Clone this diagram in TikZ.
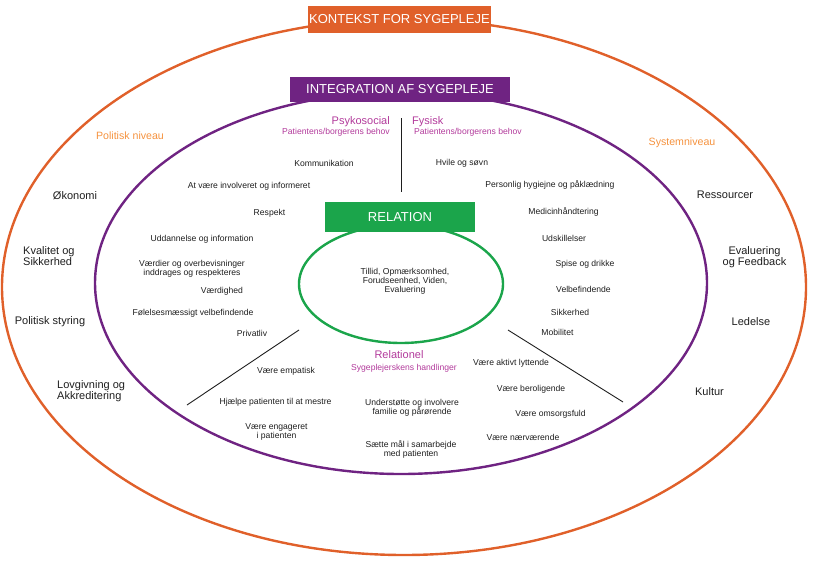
\documentclass[tikz,border=0pt]{standalone}
\usepackage{fontspec}
\setmainfont{Liberation Sans}
\definecolor{kontekst}{HTML}{E0602A}
\definecolor{niveau}{HTML}{F5923E}
\definecolor{integration}{HTML}{6F2382}
\definecolor{relation}{HTML}{1BA54B}
\definecolor{behov}{HTML}{B23A9B}
\definecolor{ink}{HTML}{1E1E1E}

\begin{document}
\begin{tikzpicture}[x=1pt,y=-1pt]
\tikzset{item/.style = {font=\fontsize{8.6}{9}\selectfont, text=ink, inner sep=0pt, align=center}}
\tikzset{outer/.style = {font=\fontsize{11}{11}\selectfont, text=ink, inner sep=0pt, align=center}}
\tikzset{level/.style = {font=\fontsize{10.6}{12}\selectfont, text=niveau, inner sep=0pt}}
\tikzset{head/.style = {font=\fontsize{11}{12}\selectfont, text=behov, inner sep=0pt}}
\tikzset{sub/.style = {font=\fontsize{8.6}{10}\selectfont, text=behov, inner sep=0pt}}
\tikzset{titlebox/.style = {shape=rectangle, text=white, inner sep=0pt, font=\fontsize{13}{13}\selectfont}}
\tikzset{ring/.style = {line width=2.4pt}}
\tikzset{divider/.style = {draw=ink, line width=0.9pt}}

\useasboundingbox (0,0) rectangle (813,562);

%rings
\draw[ring, kontekst] (404,287) ellipse [x radius=402pt, y radius=268pt];
\draw[ring, integration] (401,283) ellipse [x radius=306pt, y radius=191pt];
\draw[ring, relation] (401,284) ellipse [x radius=102pt, y radius=59pt];

%boxes
\node[titlebox, fill=kontekst, minimum width=183pt, minimum height=27pt] (kontekst) at (399.5,19.5) {KONTEKST FOR SYGEPLEJE};
\node[titlebox, fill=integration, minimum width=220pt, minimum height=25pt] (integration) at (400,89.5) {INTEGRATION AF SYGEPLEJE};
\node[titlebox, fill=relation, minimum width=150pt, minimum height=30pt] (relation) at (400,217) {RELATION};

\node[item] (kerne) at (405,281) {Tillid, Opmærksomhed,\\Forudseenhed, Viden,\\Evaluering};

%dividers
\coordinate (top1) at (401,118);
\coordinate (top2) at (401,192);
\coordinate (left1) at (299,330);
\coordinate (left2) at (187,405);
\coordinate (right1) at (508,330);
\coordinate (right2) at (623,402);
\draw[divider] (top1) -- (top2);
\draw[divider] (left1) -- (left2);
\draw[divider] (right1) -- (right2);

% ----- psykosocial
\node[head, anchor=east] (psyk) at (390,122) {Psykosocial};
\node[sub, anchor=east] (psyksub) at (390,132) {Patientens/borgerens behov};
\node[item] (komm) at (324,163) {Kommunikation};
\node[item] (invol) at (249,186) {At være involveret og informeret};
\node[item] (resp) at (269.5,213) {Respekt};
\node[item] (udd) at (202,239) {Uddannelse og information};
\node[item] (vaerd) at (192,269) {Værdier og overbevisninger\\inddrages og respekteres};
\node[item] (digh) at (222,291) {Værdighed};
\node[item] (folel) at (193,313) {Følelsesmæssigt velbefindende};
\node[item] (priv) at (252,333) {Privatliv};

% ----- fysisk
\node[head, anchor=west] (fys) at (412,122) {Fysisk};
\node[sub, anchor=west] (fyssub) at (414,132) {Patientens/borgerens behov};
\node[item] (hvile) at (462,163) {Hvile og søvn};
\node[item] (hyg) at (550,185) {Personlig hygiejne og påklædning};
\node[item] (med) at (563.5,212) {Medicinhåndtering};
\node[item] (udsk) at (564,238) {Udskillelser};
\node[item] (spise) at (585,264) {Spise og drikke};
\node[item] (velb) at (583.5,289) {Velbefindende};
\node[item] (sikk) at (570,312) {Sikkerhed};
\node[item] (mob) at (557.5,332) {Mobilitet};

% ----- relationel
\node[head] (rel) at (399,355) {Relationel};
\node[sub] (relsub) at (404,368) {Sygeplejerskens handlinger};
\node[item] (emp) at (286,371) {Være empatisk};
\node[item] (mestre) at (275.5,402) {Hjælpe patienten til at mestre};
\node[item] (eng) at (276.5,432) {Være engageret\\i patienten};
\node[item] (fam) at (412,408) {Understøtte og involvere\\familie og pårørende};
\node[item] (maal) at (411,449.5) {Sætte mål i samarbejde\\med patienten};
\node[item] (lyt) at (511,363) {Være aktivt lyttende};
\node[item] (berol) at (531,389) {Være beroligende};
\node[item] (omsorg) at (550.5,414) {Være omsorgsfuld};
\node[item] (naer) at (523,437) {Være nærværende};

% ----- politisk niveau
\node[level] (politisk) at (130,136) {Politisk niveau};
\node[outer] (okon) at (75,196) {Økonomi};
\node[outer, anchor=west, align=left] (kval) at (23,256) {Kvalitet og\\Sikkerhed};
\node[outer] (styr) at (50,322) {Politisk styring};
\node[outer, anchor=west, align=left] (lov) at (57,391) {Lovgivning og\\Akkreditering};

% ----- systemniveau
\node[level] (system) at (682,143) {Systemniveau};
\node[outer] (ress) at (725,195) {Ressourcer};
\node[outer] (evalu) at (754.5,257.5) {Evaluering\\og Feedback};
\node[outer] (led) at (751,322) {Ledelse};
\node[outer] (kult) at (709.5,392) {Kultur};
\end{tikzpicture}
\end{document}
